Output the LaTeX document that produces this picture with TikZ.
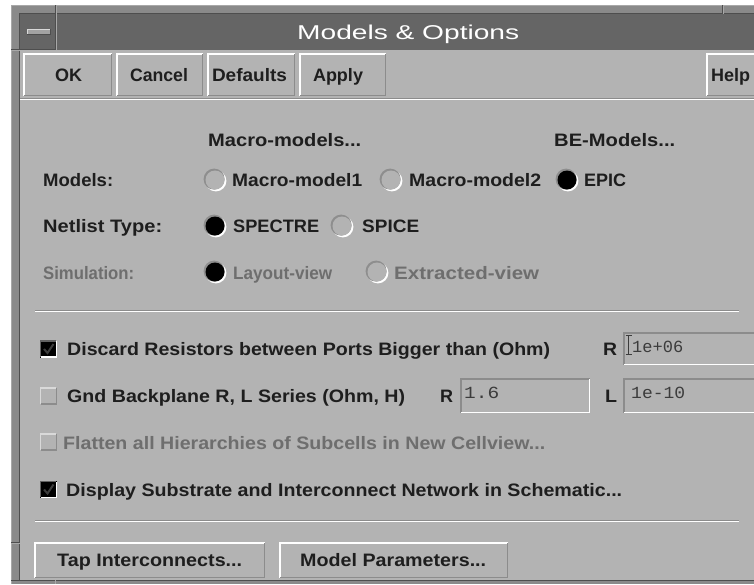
\documentclass[tikz,border=0pt]{standalone}
\usepackage{fontspec}
\usepackage{graphicx}
\setmainfont{Liberation Sans}
\setmonofont{Liberation Mono}
\definecolor{panel}{HTML}{B3B3B3}
\definecolor{titlebar}{HTML}{656565}
\definecolor{framegray}{HTML}{8A8A8A}
\definecolor{framelight}{HTML}{A8A8A8}
\definecolor{framedark}{HTML}{4E4E4E}
\definecolor{edgegray}{HTML}{8C8C8C}
\definecolor{ink}{HTML}{1E1E1E}
\definecolor{dimink}{HTML}{6E6E6E}
\definecolor{fieldink}{HTML}{3C3C3C}
\definecolor{ringgray}{HTML}{8E8E8E}
% squeeze or stretch a text horizontally to a given width (pt), keeping its height
\newcommand\fw[2]{\resizebox{#1pt}{\height}{#2}}
% raised / sunken edge round a rectangular node
\newcommand\bevel[3]{%
  \draw[draw=#2, line width=1.5pt]
    ([xshift=0.75pt,yshift=0.75pt]#1.south west) -- ([xshift=0.75pt,yshift=-0.75pt]#1.north west)
    -- ([xshift=-0.75pt,yshift=-0.75pt]#1.north east);
  \draw[draw=#3, line width=1.5pt]
    ([xshift=0.75pt,yshift=0.75pt]#1.south west) -- ([xshift=-0.75pt,yshift=0.75pt]#1.south east)
    -- ([xshift=-0.75pt,yshift=-0.75pt]#1.north east);
}
% radio button: name, centre, interior colour
\newcommand\radiobtn[3]{%
  \fill[white] ([xshift=0.9pt,yshift=-0.9pt]#2) circle[radius=10.5pt];
  \fill[ringgray] ([xshift=-0.9pt,yshift=0.9pt]#2) circle[radius=10.5pt];
  \node[radiobox, fill=#3] (#1) at (#2) {};
}
\begin{document}
\begin{tikzpicture}[x=1pt,y=-1pt,
  lbl/.style={anchor=base west, inner sep=0pt, text=ink, font=\bfseries\fontsize{18}{20}\selectfont},
  dimlbl/.style={anchor=base west, inner sep=0pt, text=dimink, font=\bfseries\fontsize{18}{20}\selectfont},
  btnlbl/.style={anchor=base, inner sep=0pt, text=ink, font=\bfseries\fontsize{18}{20}\selectfont},
  val/.style={anchor=base west, inner sep=0pt, text=fieldink, font=\ttfamily\fontsize{17}{20}\selectfont},
  face/.style={rectangle, draw=none, fill=panel, inner sep=0pt, anchor=north west},
  radiobox/.style={circle, draw=none, inner sep=0pt, minimum size=19pt},
  cbox/.style={rectangle, draw=none, inner sep=0pt, minimum width=17pt, minimum height=17pt},
]
\useasboundingbox (0,0) rectangle (754,584);
\clip (0,0) rectangle (754,584);

% ---- window frame ----
\fill[white] (0,0) rectangle (754,584);
\fill[framegray] (11,5) rectangle (754,584);
\draw[framelight, line width=1pt] (11.5,584) -- (11.5,5.5) -- (754,5.5);
\draw[framedark, line width=1pt] (19.5,580) -- (19.5,13.5) -- (754,13.5);
\fill[titlebar] (20,14) rectangle (754,50);
\fill[panel] (20,50) rectangle (754,580);
\draw[framedark, line width=1pt] (11,580.5) -- (754,580.5);
% resize-handle marks on the frame
\draw[framedark, line width=1pt] (55.5,5) -- (55.5,50);
\draw[framelight, line width=1pt] (56.5,5) -- (56.5,50);
\draw[framedark, line width=1pt] (11,49.5) -- (56,49.5);
\draw[framelight, line width=1pt] (11,50.5) -- (20,50.5);
\draw[framedark, line width=1pt] (722.5,5) -- (722.5,13.5);
\draw[framelight, line width=1pt] (723.5,5) -- (723.5,13.5);
\draw[framedark, line width=1pt] (11,542.5) -- (20,542.5);
\draw[framelight, line width=1pt] (11,543.5) -- (20,543.5);
\draw[framelight, line width=1pt] (55.5,580) -- (55.5,584);

% window-menu button
\node[rectangle, fill=edgegray!80!white, inner sep=0pt, minimum width=23pt, minimum height=5pt, anchor=north west] (menu) at (27,29) {};
\draw[white!85!black, line width=1pt] (menu.south west) -- (menu.north west) -- (menu.north east);
\draw[framedark, line width=1pt] (menu.south west) -- (menu.south east) -- (menu.north east);

% title
\node[anchor=base west, inner sep=0pt, text=white, font=\fontsize{20}{22}\selectfont] (title) at (297,39.5) {\fw{222}{Models \& Options}};

% ---- command buttons ----
\node[face, minimum width=89pt, minimum height=43pt] (b_ok) at (23,53) {};
\node[face, minimum width=87pt, minimum height=43pt] (b_cancel) at (116,53) {};
\node[face, minimum width=88pt, minimum height=43pt] (b_defaults) at (207,53) {};
\node[face, minimum width=87pt, minimum height=43pt] (b_apply) at (299,53) {};
\node[face, minimum width=60pt, minimum height=43pt] (b_help) at (706,53) {};
\bevel{b_ok}{white}{edgegray}
\bevel{b_cancel}{white}{edgegray}
\bevel{b_defaults}{white}{edgegray}
\bevel{b_apply}{white}{edgegray}
\bevel{b_help}{white}{edgegray}
\node[btnlbl] (l_ok) at (68.5,81) {\fw{27}{OK}};
\node[btnlbl] (l_cancel) at (159,81) {\fw{58}{Cancel}};
\node[btnlbl] (l_defaults) at (249.5,81) {\fw{75}{Defaults}};
\node[btnlbl] (l_apply) at (338,81) {\fw{50}{Apply}};
\node[lbl] (l_help) at (711,81) {\fw{39}{Help}};

% rule under the button bar
\draw[edgegray, line width=1pt] (20,98.5) -- (754,98.5);
\draw[white, line width=1.2pt] (20,99.8) -- (754,99.8);

% ---- model choices ----
\node[lbl] (h_macro) at (208,146) {\fw{153}{Macro-models...}};
\node[lbl] (h_be) at (554,146) {\fw{121}{BE-Models...}};

\node[lbl] (t_models) at (43,186) {\fw{70}{Models:}};
\radiobtn{rb_mm1}{215,180}{panel}
\node[lbl] (t_mm1) at (232,186) {\fw{130}{Macro-model1}};
\radiobtn{rb_mm2}{391,180}{panel}
\node[lbl] (t_mm2) at (409,186) {\fw{132}{Macro-model2}};
\radiobtn{rb_epic}{567,180}{black}
\node[lbl] (t_epic) at (584,186) {\fw{42}{EPIC}};

\node[lbl] (t_netlist) at (43,232) {\fw{119}{Netlist Type:}};
\radiobtn{rb_spectre}{215,226}{black}
\node[lbl] (t_spectre) at (233,232) {\fw{86}{SPECTRE}};
\radiobtn{rb_spice}{342,226}{panel}
\node[lbl] (t_spice) at (362,232) {\fw{57}{SPICE}};

\node[dimlbl] (t_sim) at (43,279) {\fw{91}{Simulation:}};
\radiobtn{rb_layout}{215,272}{black}
\node[dimlbl] (t_layout) at (233,279) {\fw{99}{Layout-view}};
\radiobtn{rb_extr}{377,272}{panel}
\node[dimlbl] (t_extr) at (394,279) {\fw{145}{Extracted-view}};

% etched separator
\draw[edgegray, line width=1pt] (35,310.5) -- (739,310.5);
\draw[white, line width=1.2pt] (35,311.7) -- (739,311.7);

% ---- check options ----
\node[cbox, fill=black] (cb_discard) at (48.5,349) {};
\bevel{cb_discard}{edgegray!70!black}{white}
\draw[fieldink, line width=2pt] ([xshift=-4.5pt]cb_discard.center) -- ([xshift=-1pt,yshift=-4pt]cb_discard.center) -- ([xshift=5pt,yshift=5pt]cb_discard.center);
\node[lbl] (t_discard) at (67,355) {\fw{483}{Discard Resistors between Ports Bigger than (Ohm)}};
\node[lbl] (t_r1) at (603,355) {\fw{14}{R}};
\node[face, minimum width=140pt, minimum height=33pt] (f_rmax) at (623,332) {};
\bevel{f_rmax}{edgegray}{white}
\draw[fieldink, line width=1pt] (628.5,335) -- (628.5,355) (625.5,335.5) -- (631.5,335.5) (625.5,354.5) -- (631.5,354.5);
\node[val] (v_rmax) at (632,352) {\fw{51}{1e+06}};

\node[cbox, fill=panel] (cb_gnd) at (48.5,396) {};
\bevel{cb_gnd}{white!85!black}{edgegray}
\node[lbl] (t_gnd) at (67,402) {\fw{338}{Gnd Backplane R, L Series (Ohm, H)}};
\node[lbl] (t_r2) at (440,402) {\fw{13}{R}};
\node[face, minimum width=130pt, minimum height=35pt] (f_rgnd) at (460,378) {};
\bevel{f_rgnd}{edgegray}{white}
\node[val] (v_rgnd) at (464,398) {\fw{35}{1.6}};
\node[lbl] (t_l) at (605,402) {\fw{12}{L}};
\node[face, minimum width=140pt, minimum height=35pt] (f_lgnd) at (623,378) {};
\bevel{f_lgnd}{edgegray}{white}
\node[val] (v_lgnd) at (631,398) {\fw{54}{1e-10}};

\node[cbox, fill=panel] (cb_flat) at (48.5,442) {};
\bevel{cb_flat}{white!85!black}{edgegray}
\node[dimlbl] (t_flat) at (63,449) {\fw{482}{Flatten all Hierarchies of Subcells in New Cellview...}};

\node[cbox, fill=black] (cb_disp) at (48.5,489.5) {};
\bevel{cb_disp}{edgegray!70!black}{white}
\draw[fieldink, line width=2pt] ([xshift=-4.5pt]cb_disp.center) -- ([xshift=-1pt,yshift=-4pt]cb_disp.center) -- ([xshift=5pt,yshift=5pt]cb_disp.center);
\node[lbl] (t_disp) at (66,496) {\fw{556}{Display Substrate and Interconnect Network in Schematic...}};

% etched separator
\draw[edgegray, line width=1pt] (35,520.5) -- (739,520.5);
\draw[white, line width=1.2pt] (35,521.7) -- (739,521.7);

% ---- bottom buttons ----
\node[face, minimum width=231pt, minimum height=36pt] (b_tap) at (34,542) {};
\node[face, minimum width=229pt, minimum height=36pt] (b_param) at (279,542) {};
\bevel{b_tap}{white}{edgegray}
\bevel{b_param}{white}{edgegray}
\node[lbl] (l_tap) at (57,566) {\fw{185}{Tap Interconnects...}};
\node[lbl] (l_param) at (300,566) {\fw{186}{Model Parameters...}};
\end{tikzpicture}
\end{document}
